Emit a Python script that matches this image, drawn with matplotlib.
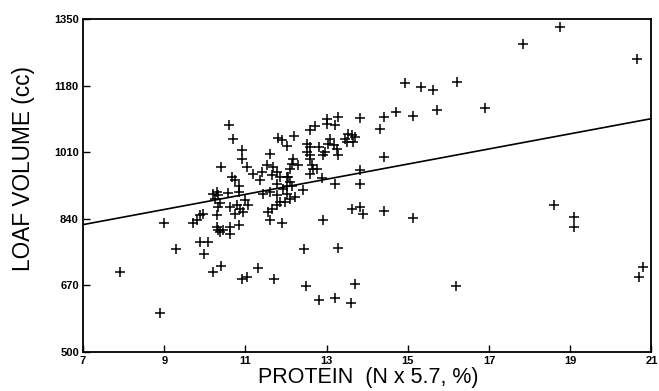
import matplotlib
matplotlib.use('Agg')
import matplotlib.pyplot as plt

# Protein (%) and loaf volume (cc)
protein = [
    7.9, 8.9, 9.0, 9.3, 9.7, 9.8, 9.88, 9.96, 9.88, 10.08, 9.97,
    10.21, 10.39, 10.29, 10.29, 10.33, 10.37, 10.45, 10.62, 10.62, 10.83,
    10.91, 11.03, 11.3, 11.7, 11.61, 11.9, 12.43, 12.5, 12.82, 12.92,
    13.29, 13.21, 13.6, 13.7, 13.62, 13.82, 13.9, 14.4, 15.12, 16.19,
    18.6, 19.1, 19.1, 20.7, 20.8,
    18.75, 17.83, 20.65, 14.93, 15.33, 15.63, 16.22,
    14.72, 15.12, 15.71, 16.91, 14.4, 14.31, 13.82,
    13.29, 13.21, 13.0, 13.0,
    13.53, 13.62, 13.7, 13.45, 13.66, 13.5, 13.08, 13.04, 13.17, 13.25,
    12.96, 12.92, 13.29, 14.4, 13.82, 13.21, 13.82, 12.88,
    10.6, 10.7, 10.91, 10.91, 11.03, 10.39,
    11.61, 11.81, 11.9, 12.2, 12.02, 12.6, 12.72,
    12.51, 12.59, 12.8, 12.51, 12.59,
    12.18, 12.14, 12.1, 12.3, 12.59, 12.63, 12.67, 12.59, 12.75,
    11.19, 11.4, 11.52, 11.69, 11.77, 11.65, 11.36, 11.85, 11.77, 12.06,
    12.02, 12.1, 12.14, 12.02, 12.42,
    10.66, 10.74, 10.83, 10.29, 10.58, 10.83, 10.21, 10.33,
    11.44, 11.61, 11.77, 12.02,
    10.25, 10.37, 10.33, 10.62, 10.78, 10.99, 11.07, 10.87, 10.74, 10.95,
    11.56, 11.65, 11.77, 11.85, 11.97, 12.1, 12.22, 11.93,
]
loaf_volume = [
    705, 600, 830, 762, 828, 836, 849, 851, 781, 781, 751,
    703, 720, 849, 819, 811, 806, 811, 819, 802, 825,
    687, 691, 714, 685, 836, 828, 762, 668, 632, 836,
    764, 638, 624, 672, 866, 870, 853, 860, 842, 668,
    876, 845, 818, 692, 716,
    1331, 1287, 1248, 1188, 1178, 1170, 1190,
    1113, 1102, 1119, 1124, 1100, 1070, 1097,
    1100, 1079, 1096, 1083,
    1057, 1053, 1049, 1045, 1036, 1036, 1045, 1032, 1028, 1019,
    1010, 1002, 1004, 998, 965, 930, 930, 943,
    1081, 1045, 1017, 993, 973, 973,
    1005, 1046, 1042, 1051, 1025, 1066, 1078,
    1032, 1023, 1023, 1010, 1002,
    994, 981, 968, 977, 994, 977, 968, 955, 968,
    955, 960, 977, 972, 960, 951, 938, 947, 930, 947,
    947, 934, 925, 925, 913,
    947, 938, 925, 908, 907, 908, 904, 900,
    904, 908, 900, 904,
    891, 879, 870, 870, 874, 887, 874, 866, 853, 857,
    857, 866, 874, 883, 883, 891, 896, 915,
]

# Fitted regression line end points
fit_x = [7, 21]
fit_y = [825, 1096]

x_ticks = [7, 9, 11, 13, 15, 17, 19, 21]
y_ticks = [500, 670, 840, 1010, 1180, 1350]

plt.rcParams['font.family'] = ['Liberation Sans', 'DejaVu Sans']

fig = plt.figure(figsize=(6.59, 3.91), dpi=100)
ax = fig.add_axes([0.126, 0.1005, 0.8626, 0.8501])

ax.plot(protein, loaf_volume, linestyle='none', marker='+',
        markersize=6.5, markeredgewidth=1.1, color='black')
ax.plot(fit_x, fit_y, color='black', linewidth=1.2)

ax.set_xlim(7, 21)
ax.set_ylim(500, 1350)
ax.set_xticks(x_ticks)
ax.set_yticks(y_ticks)
ax.tick_params(direction='in', length=5, width=1, labelsize=8, pad=3)
for lab in ax.get_xticklabels() + ax.get_yticklabels():
    lab.set_fontweight('bold')

for s in ax.spines.values():
    s.set_linewidth(1.3)

ax.set_xlabel('PROTEIN  (N x 5.7, %)', fontsize=15.5)
ax.set_ylabel('LOAF VOLUME (cc)', fontsize=16.3)
ax.xaxis.set_label_coords(0.501, -0.045)
ax.yaxis.set_label_coords(-0.084, 0.55)

fig.savefig('out.png', dpi=100, facecolor='white')
